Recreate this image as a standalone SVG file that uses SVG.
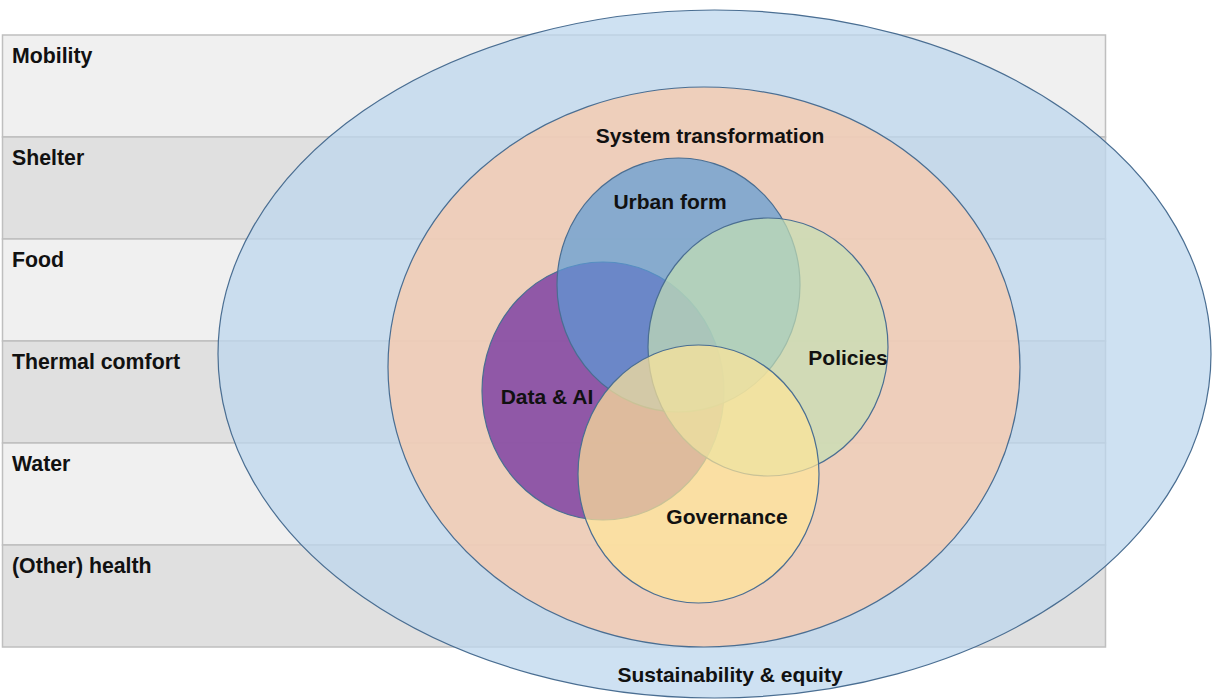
<svg xmlns="http://www.w3.org/2000/svg" width="1212" height="700" viewBox="0 0 1212 700">
  <style>
    .band-a { fill: #f0f0f0; stroke: #bfbfbf; stroke-width: 1.5; }
    .band-b { fill: #e0e0e0; stroke: #bfbfbf; stroke-width: 1.5; }
    .lbl { font-family: "Liberation Sans", Arial, sans-serif; font-weight: bold; font-size: 21.3px; fill: #111; }
    .clbl { font-family: "Liberation Sans", Arial, sans-serif; font-weight: bold; font-size: 21px; fill: #111; text-anchor: middle; }
    .edge { stroke: #4a6e92; stroke-width: 1.2; }
  </style>
  <rect width="1212" height="700" fill="#ffffff"/>
  <g id="bands">
    <g id="band-mobility"><rect class="band-a" x="2.5" y="35" width="1103" height="102"/><text class="lbl" x="12" y="63">Mobility</text></g>
    <g id="band-shelter"><rect class="band-b" x="2.5" y="137" width="1103" height="102"/><text class="lbl" x="12" y="165">Shelter</text></g>
    <g id="band-food"><rect class="band-a" x="2.5" y="239" width="1103" height="102"/><text class="lbl" x="12" y="267">Food</text></g>
    <g id="band-thermal"><rect class="band-b" x="2.5" y="341" width="1103" height="102"/><text class="lbl" x="12" y="369">Thermal comfort</text></g>
    <g id="band-water"><rect class="band-a" x="2.5" y="443" width="1103" height="102"/><text class="lbl" x="12" y="471">Water</text></g>
    <g id="band-health"><rect class="band-b" x="2.5" y="545" width="1103" height="102"/><text class="lbl" x="12" y="573">(Other) health</text></g>
  </g>
  <g id="sustainability">
    <ellipse class="edge" cx="714.5" cy="354" rx="496.5" ry="344" fill="#bdd7ee" fill-opacity="0.75"/>
    <text class="clbl" x="730" y="682">Sustainability &amp; equity</text>
  </g>
  <g id="system-transformation">
    <ellipse class="edge" cx="704" cy="367" rx="316" ry="280" fill="#f8cbad" fill-opacity="0.78"/>
    <text class="clbl" x="710" y="143">System transformation</text>
  </g>
  <g id="data-ai">
    <ellipse class="edge" cx="603" cy="391" rx="121" ry="129" fill="#7030a0" fill-opacity="0.75"/>
  </g>
  <g id="urban-form">
    <ellipse class="edge" cx="678.5" cy="285" rx="121.5" ry="127" fill="#5b9bd5" fill-opacity="0.7"/>
  </g>
  <g id="policies">
    <ellipse class="edge" cx="768" cy="347" rx="120" ry="129" fill="#c5e0b4" fill-opacity="0.7"/>
  </g>
  <g id="governance">
    <ellipse class="edge" cx="698.5" cy="474" rx="120.5" ry="129" fill="#ffe699" fill-opacity="0.7"/>
  </g>
  <g id="circle-labels">
    <text class="clbl" x="670" y="209">Urban form</text>
    <text class="clbl" x="848" y="365">Policies</text>
    <text class="clbl" x="547" y="404">Data &amp; AI</text>
    <text class="clbl" x="727" y="524">Governance</text>
  </g>
  <g id="connectors"/>
</svg>
